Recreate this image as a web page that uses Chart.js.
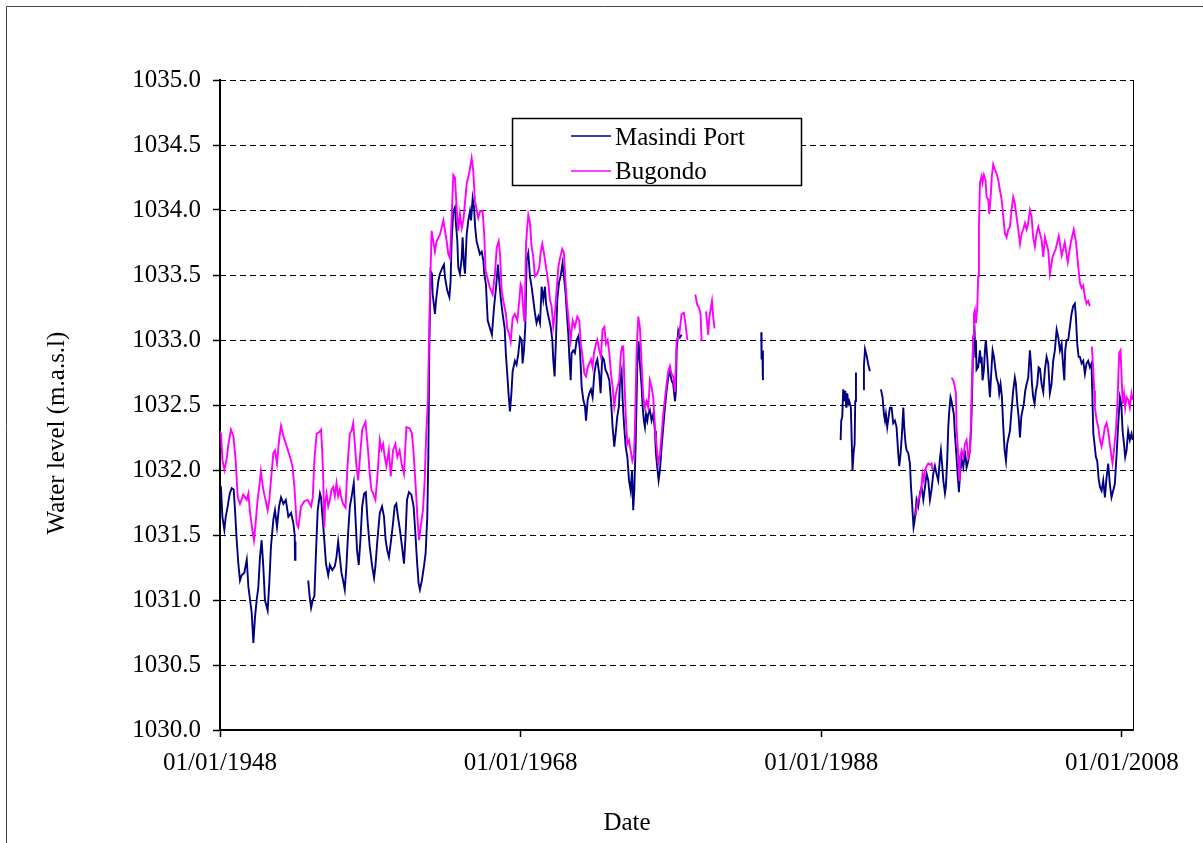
<!DOCTYPE html>
<html><head><meta charset="utf-8">
<script src="https://cdn.jsdelivr.net/npm/chart.js@4/dist/chart.umd.min.js"></script>
<style>html,body{margin:0;padding:0;background:#fff;}canvas{display:block;}</style>
</head><body>
<canvas id="c" width="1203" height="843"></canvas>
<script>
// ---------------- DATA ----------------
const seriesNames = ['Masindi Port', 'Bugondo'];
const xAxisTitle = 'Date';
const yAxisTitle = 'Water level (m.a.s.l)';
const xTickYears = [1948, 1968, 1988, 2008];
const xTickLabels = ['01/01/1948', '01/01/1968', '01/01/1988', '01/01/2008'];
const yMin = 1030.0, yMax = 1035.0, yStep = 0.5;

const masindiYears = [
1948.0,1948.07,1948.16,1948.29,1948.38,1948.51,1948.65,1948.78,1948.91,1949.0,1949.11,1949.22,1949.33,1949.44,1949.62,1949.78,1949.89,
1950.0,1950.11,1950.22,1950.33,1950.44,1950.55,1950.66,1950.77,1950.88,1950.99,1951.17,1951.28,1951.39,1951.55,1951.66,1951.79,1951.93,
1952.06,1952.22,1952.38,1952.55,1952.73,1952.88,1952.97,1952.99,1953.02,1953.4,
1953.87,1953.96,1954.06,1954.17,1954.28,1954.39,1954.5,1954.65,1954.72,1954.8,1954.94,1955.05,1955.2,1955.31,1955.47,1955.64,1955.75,
1955.86,1955.97,1956.08,1956.19,1956.3,1956.41,1956.52,1956.64,1956.75,1956.9,1957.01,1957.12,1957.23,1957.34,1957.46,1957.59,1957.7,
1957.81,1957.96,1958.12,1958.25,1958.34,1958.47,1958.63,1958.78,1958.91,1959.02,1959.13,1959.24,1959.36,1959.51,1959.62,1959.73,1959.84,
1959.97,1960.11,1960.24,1960.33,1960.44,1960.57,1960.73,1960.88,1961.0,1961.1,1961.21,1961.3,1961.43,1961.57,1961.68,1961.79,1961.86,
1961.92,1962.01,1962.1,1962.15,1962.3,1962.37,1962.52,1962.63,1962.81,1962.9,1962.97,1963.12,1963.26,1963.34,1963.41,1963.52,1963.63,
1963.7,1963.79,1963.85,1963.96,1964.08,1964.14,1964.23,1964.3,1964.41,1964.52,1964.63,1964.7,1964.81,1964.9,1964.98,1965.07,1965.18,
1965.29,1965.41,1965.52,1965.58,1965.69,1965.81,1965.96,1966.09,1966.23,1966.36,1966.49,1966.58,1966.67,1966.8,1966.94,1967.02,1967.11,
1967.2,1967.29,1967.38,1967.47,1967.62,1967.73,1967.84,1967.96,1968.07,1968.13,1968.22,1968.31,1968.4,1968.51,1968.62,1968.73,1968.84,
1968.95,1969.06,1969.18,1969.29,1969.4,1969.51,1969.62,1969.69,1969.8,1969.91,1970.0,1970.11,1970.17,1970.26,1970.35,1970.44,1970.55,
1970.66,1970.79,1970.88,1970.99,1971.06,1971.17,1971.24,1971.33,1971.39,1971.5,1971.61,1971.73,1971.84,1971.95,1972.06,1972.17,1972.28,
1972.35,1972.46,1972.57,1972.68,1972.79,1972.9,1973.01,1973.1,1973.23,1973.32,1973.43,1973.54,1973.65,1973.77,1973.9,1974.01,1974.12,
1974.23,1974.32,1974.43,1974.54,1974.61,1974.72,1974.79,1974.88,1974.99,1975.1,1975.21,1975.32,1975.41,1975.49,1975.56,1975.65,1975.76,
1975.85,1975.94,1976.05,1976.12,1976.2,1976.27,1976.34,1976.43,1976.49,1976.6,1976.71,1976.82,1976.94,1977.0,1977.09,1977.18,1977.27,
1977.38,1977.49,1977.6,1977.71,1977.82,1977.93,1978.04,1978.15,1978.27,1978.33,1978.38,1978.49,1978.6,1978.71,1981.0,
1984.01,1984.03,1984.08,1984.12,1986.0,
1989.29,1989.33,1989.4,1989.46,1989.53,1989.6,1989.66,1989.73,1989.8,1989.86,1989.97,1990.02,1990.08,1990.15,1990.22,1990.26,1990.31,1990.5,
1990.79,1990.84,1990.91,1991.02,1991.13,1991.24,1991.6,
1991.97,1992.08,1992.17,1992.24,1992.3,1992.39,1992.48,1992.57,1992.68,1992.79,1992.9,1993.01,1993.12,1993.19,1993.28,1993.37,1993.46,
1993.52,1993.61,1993.68,1993.79,1993.9,1993.97,1994.03,1994.08,1994.14,1994.2,1994.34,1994.45,1994.56,1994.67,1994.79,1994.9,1995.01,
1995.12,1995.23,1995.34,1995.45,1995.56,1995.67,1995.78,1995.89,1995.96,1996.05,1996.12,1996.23,1996.29,1996.38,1996.45,1996.52,1996.6,
1996.67,1996.74,1996.82,1996.89,1997.0,1997.07,1997.16,1997.22,1997.34,1997.45,1997.56,1997.67,1997.78,1997.89,1997.98,1998.05,1998.11,
1998.2,1998.25,1998.29,1998.33,1998.44,1998.56,1998.62,1998.67,1998.73,1998.82,1998.89,1998.95,1999.04,1999.13,1999.22,1999.33,1999.4,
1999.49,1999.57,1999.66,1999.78,1999.84,1999.93,2000.02,2000.11,2000.2,2000.29,2000.37,2000.46,2000.55,2000.66,2000.77,2000.88,2000.95,
2001.04,2001.13,2001.22,2001.31,2001.39,2001.48,2001.57,2001.66,2001.77,2001.88,2001.95,2002.02,2002.1,2002.19,2002.28,2002.37,2002.46,
2002.55,2002.66,2002.77,2002.88,2002.99,2003.1,2003.21,2003.32,2003.43,2003.54,2003.66,2003.77,2003.88,2003.99,2004.1,2004.17,2004.23,
2004.32,2004.43,2004.54,2004.65,2004.76,2004.87,2004.94,2005.03,2005.12,2005.21,2005.32,2005.43,2005.54,2005.65,2005.76,2005.87,2005.98,
2006.05,2006.1,2006.18,2006.27,2006.36,2006.45,2006.54,2006.65,2006.76,2006.87,2006.98,2007.09,2007.2,2007.31,2007.42,2007.53,2007.65,
2007.76,2007.87,2007.96,2008.05,2008.14,2008.22,2008.31,2008.42,2008.53,2008.64,2008.72
];
const masindiLevels = [
1031.83,1031.85,1031.64,1031.54,1031.64,1031.72,1031.82,1031.86,1031.85,1031.69,1031.46,1031.28,1031.15,1031.19,1031.21,1031.31,1031.10,
1031.00,1030.90,1030.67,1030.87,1031.00,1031.10,1031.33,1031.46,1031.26,1031.00,1030.92,1031.13,1031.41,1031.62,1031.69,1031.56,1031.72,
1031.79,1031.74,1031.77,1031.64,1031.67,1031.59,1031.50,1031.31,1031.45,null,
1031.15,1031.03,1030.94,1031.00,1031.03,1031.38,1031.69,1031.82,1031.79,1031.67,1031.46,1031.28,1031.19,1031.27,1031.23,1031.26,1031.33,
1031.45,1031.33,1031.21,1031.15,1031.08,1031.26,1031.51,1031.72,1031.79,1031.90,1031.64,1031.38,1031.27,1031.46,1031.72,1031.82,1031.83,
1031.62,1031.41,1031.26,1031.17,1031.26,1031.46,1031.67,1031.72,1031.64,1031.46,1031.38,1031.33,1031.44,1031.59,1031.72,1031.74,1031.64,
1031.54,1031.41,1031.28,1031.46,1031.77,1031.83,1031.81,1031.72,1031.51,1031.31,1031.13,1031.08,1031.15,1031.26,1031.36,1031.64,1032.10,
1032.89,1033.53,1033.51,1033.35,1033.20,1033.30,1033.45,1033.51,1033.56,1033.58,1033.48,1033.38,1033.33,1033.45,1033.76,1033.99,1034.02,
1033.89,1033.76,1033.56,1033.51,1033.63,1033.79,1033.58,1033.51,1033.81,1033.92,1033.99,1033.92,1034.09,1034.02,1033.86,1033.76,1033.71,
1033.66,1033.68,1033.61,1033.51,1033.43,1033.15,1033.09,1033.04,1033.25,1033.40,1033.58,1033.45,1033.33,1033.20,1033.09,1032.89,1032.74,
1032.58,1032.45,1032.58,1032.76,1032.84,1032.81,1032.89,1033.02,1033.00,1032.82,1032.92,1033.10,1033.62,1033.67,1033.49,1033.41,1033.31,
1033.21,1033.13,1033.18,1033.13,1033.41,1033.31,1033.41,1033.28,1033.21,1033.15,1033.10,1033.00,1032.85,1032.72,1033.00,1033.31,1033.44,
1033.49,1033.59,1033.49,1033.36,1033.23,1033.05,1032.87,1032.69,1032.90,1032.92,1032.90,1033.00,1033.03,1032.92,1032.64,1032.54,1032.49,
1032.38,1032.54,1032.59,1032.62,1032.56,1032.74,1032.82,1032.85,1032.74,1032.59,1032.87,1032.85,1032.77,1032.74,1032.69,1032.54,1032.33,
1032.18,1032.28,1032.41,1032.49,1032.69,1032.76,1032.53,1032.35,1032.18,1032.10,1031.92,1031.84,1032.00,1031.69,1031.84,1032.18,1032.81,
1032.99,1032.81,1032.64,1032.48,1032.38,1032.33,1032.43,1032.38,1032.43,1032.46,1032.38,1032.43,1032.30,1032.13,1032.02,1031.92,1032.00,
1032.18,1032.33,1032.48,1032.61,1032.71,1032.76,1032.69,1032.66,1032.53,1032.61,1032.92,1033.07,1033.02,1033.04,null,
1033.06,1032.85,1032.92,1032.69,null,
1032.23,1032.38,1032.41,1032.62,1032.53,1032.61,1032.48,1032.59,1032.51,1032.53,1032.48,1032.25,1032.00,1032.13,1032.20,1032.53,1032.75,null,
1032.62,1032.80,1032.93,1032.88,1032.81,1032.76,null,
1032.62,1032.56,1032.43,1032.38,1032.43,1032.33,1032.41,1032.48,1032.48,1032.36,1032.38,1032.33,1032.13,1032.03,1032.13,1032.28,1032.48,
1032.33,1032.20,1032.15,1032.13,1032.05,1031.87,1031.77,1031.67,1031.56,1031.60,1031.77,1031.72,1031.82,1031.87,1031.77,1031.87,1031.97,
1031.92,1031.77,1031.85,1031.97,1032.03,1031.97,1031.92,1032.08,1032.15,1032.03,1031.92,1031.82,1031.87,1032.08,1032.33,1032.46,1032.56,
1032.53,1032.48,1032.43,1032.28,1032.10,1031.97,1031.83,1031.95,1032.08,1032.02,1032.15,1032.02,1032.07,1032.15,1032.35,1032.66,1033.02,
1033.07,1032.87,1033.00,1032.77,1032.79,1032.92,1032.82,1032.87,1032.69,1032.77,1032.92,1033.00,1032.87,1032.71,1032.56,1032.79,1032.92,
1032.87,1032.79,1032.71,1032.66,1032.59,1032.66,1032.56,1032.33,1032.15,1032.07,1032.20,1032.25,1032.30,1032.46,1032.61,1032.71,1032.66,
1032.51,1032.41,1032.25,1032.41,1032.46,1032.51,1032.61,1032.66,1032.71,1032.92,1032.82,1032.66,1032.56,1032.51,1032.61,1032.66,1032.79,
1032.78,1032.66,1032.60,1032.77,1032.87,1032.82,1032.59,1032.66,1032.84,1032.92,1033.08,1033.02,1032.92,1032.97,1032.79,1032.69,1032.92,
1033.00,1033.00,1033.10,1033.20,1033.26,1033.28,1033.18,1032.97,1032.87,1032.87,1032.82,1032.84,1032.74,1032.82,1032.84,1032.79,1032.82,
1032.51,1032.28,1032.20,1032.10,1032.07,1031.94,1031.87,1031.84,1031.92,1031.79,1031.94,1032.05,1031.89,1031.79,1031.84,1031.89,1032.12,
1032.36,1032.56,1032.51,1032.30,1032.20,1032.10,1032.15,1032.30,1032.23,1032.28,1032.23
];

const bugondoYears = [
1948.0,1948.07,1948.16,1948.29,1948.45,1948.56,1948.73,1948.89,1949.04,1949.18,1949.33,1949.55,1949.78,1949.89,1950.0,1950.15,1950.26,
1950.37,1950.5,1950.61,1950.72,1950.88,1951.03,1951.17,1951.28,1951.39,1951.55,1951.66,1951.79,1951.93,1952.06,1952.22,1952.44,1952.66,
1952.82,1952.95,1953.1,1953.21,1953.39,1953.61,1953.83,1954.06,1954.17,1954.28,1954.43,1954.59,1954.72,1954.8,1954.87,1954.94,1955.0,
1955.09,1955.2,1955.31,1955.42,1955.53,1955.64,1955.75,1955.86,1955.97,1956.08,1956.19,1956.35,1956.48,1956.64,1956.75,1956.86,1956.97,
1957.08,1957.19,1957.3,1957.46,1957.68,1957.85,1957.96,1958.07,1958.18,1958.34,1958.47,1958.63,1958.74,1958.85,1958.96,1959.07,1959.23,
1959.36,1959.51,1959.67,1959.8,1959.95,1960.11,1960.24,1960.4,1960.62,1960.77,1960.88,1961.02,1961.13,1961.24,1961.35,1961.5,1961.61,
1961.72,1961.83,1961.93,1962.0,1962.08,1962.19,1962.3,1962.41,1962.63,1962.86,1962.97,1963.08,1963.19,1963.3,1963.41,1963.52,1963.63,
1963.74,1963.85,1963.96,1964.08,1964.19,1964.41,1964.59,1964.74,1964.85,1964.96,1965.18,1965.3,1965.47,1965.58,1965.67,1965.85,1965.96,
1966.14,1966.29,1966.41,1966.54,1966.63,1966.74,1966.85,1967.02,1967.11,1967.25,1967.34,1967.47,1967.62,1967.78,1967.91,1968.0,1968.07,
1968.18,1968.24,1968.29,1968.36,1968.44,1968.51,1968.62,1968.73,1968.84,1968.95,1969.11,1969.24,1969.33,1969.44,1969.55,1969.69,1969.84,
1969.95,1970.06,1970.17,1970.28,1970.39,1970.51,1970.62,1970.77,1970.88,1970.99,1971.1,1971.24,1971.33,1971.46,1971.61,1971.77,1971.9,
1972.01,1972.12,1972.24,1972.35,1972.46,1972.57,1972.68,1972.79,1972.88,1973.01,1973.1,1973.23,1973.34,1973.45,1973.57,1973.68,1973.79,
1973.9,1974.01,1974.12,1974.23,1974.34,1974.45,1974.56,1974.67,1974.76,1974.83,1974.9,1975.01,1975.1,1975.21,1975.32,1975.43,1975.54,
1975.6,1975.72,1975.83,1975.94,1976.05,1976.16,1976.27,1976.38,1976.49,1976.6,1976.71,1976.82,1976.94,1977.05,1977.16,1977.27,1977.38,
1977.49,1977.6,1977.71,1977.82,1977.93,1978.04,1978.15,1978.27,1978.38,1978.55,1978.71,1978.86,1978.97,1979.09,1979.3,
1979.62,1979.75,1979.86,1979.97,1980.04,1980.2,
1980.33,1980.42,1980.48,1980.55,1980.66,1980.73,1980.82,1980.9,1987.0,
1994.3,1994.34,1994.45,1994.56,1994.67,1994.74,1994.82,1994.9,1995.01,1995.12,1995.23,1995.34,1995.41,1996.0,
1996.67,1996.78,1996.89,1996.96,1997.0,1997.07,1997.14,1997.18,1997.22,1997.28,1997.34,1997.45,1997.56,1997.67,1997.78,1997.89,1997.96,
1998.02,1998.11,1998.16,1998.22,1998.29,1998.38,1998.44,1998.49,1998.56,1998.67,1998.73,1998.82,1998.93,1999.0,1999.11,1999.18,1999.27,
1999.35,1999.44,1999.55,1999.66,1999.78,1999.89,2000.0,2000.11,2000.22,2000.33,2000.44,2000.55,2000.66,2000.77,2000.88,2000.99,2001.11,
2001.22,2001.33,2001.44,2001.55,2001.66,2001.77,2001.88,2001.99,2002.1,2002.21,2002.33,2002.44,2002.55,2002.66,2002.77,2002.88,2002.99,
2003.1,2003.21,2003.39,2003.6,2003.8,2004.0,2004.2,2004.4,2004.6,2004.8,2004.95,2005.1,2005.21,2005.32,2005.43,2005.54,2005.65,2005.76,
2005.87,2005.95,
2006.0,2006.09,2006.16,2006.21,2006.32,2006.43,2006.54,2006.65,2006.76,2006.87,2006.98,2007.09,2007.2,2007.31,2007.38,2007.47,2007.6,
2007.69,2007.76,2007.82,2007.91,2007.98,2008.05,2008.14,2008.22,2008.31,2008.42,2008.53,2008.64,2008.72
];
const bugondoLevels = [
1032.30,1032.28,1032.08,1032.00,1032.09,1032.20,1032.31,1032.26,1032.08,1031.79,1031.74,1031.81,1031.77,1031.82,1031.67,1031.54,1031.46,
1031.59,1031.77,1031.87,1031.99,1031.85,1031.77,1031.69,1031.77,1031.92,1032.13,1032.15,1032.05,1032.23,1032.34,1032.26,1032.18,1032.10,
1032.03,1031.87,1031.59,1031.56,1031.72,1031.76,1031.77,1031.72,1031.79,1032.08,1032.28,1032.29,1032.31,1032.15,1031.92,1031.56,1031.75,
1031.82,1031.72,1031.77,1031.85,1031.87,1031.80,1031.90,1031.80,1031.85,1031.78,1031.74,1031.71,1032.03,1032.28,1032.30,1032.36,1032.20,
1032.03,1031.92,1032.08,1032.31,1032.37,1032.15,1031.97,1031.85,1031.82,1031.77,1031.95,1032.23,1032.16,1032.20,1032.10,1032.03,1032.15,
1031.95,1032.15,1032.20,1032.10,1032.15,1032.03,1031.97,1032.33,1032.32,1032.28,1032.13,1031.87,1031.64,1031.46,1031.56,1031.69,1031.90,
1032.28,1032.54,1033.15,1033.50,1033.84,1033.76,1033.68,1033.76,1033.81,1033.92,1033.84,1033.76,1033.66,1033.63,1033.94,1034.27,1034.25,
1034.02,1033.84,1033.97,1033.86,1033.92,1034.20,1034.29,1034.40,1034.30,1034.07,1033.94,1033.99,1033.99,1033.81,1033.53,1033.45,1033.40,
1033.35,1033.51,1033.71,1033.76,1033.66,1033.38,1033.30,1033.20,1033.09,1033.04,1032.99,1033.17,1033.20,1033.15,1033.30,1033.43,1033.41,
1033.23,1033.15,1033.31,1033.74,1033.87,1033.96,1033.90,1033.72,1033.64,1033.49,1033.51,1033.56,1033.67,1033.74,1033.67,1033.56,1033.44,
1033.31,1033.26,1033.10,1033.20,1033.38,1033.56,1033.63,1033.70,1033.67,1033.44,1033.26,1033.10,1033.00,1033.15,1033.10,1033.18,1033.15,
1032.97,1032.87,1032.74,1032.72,1032.79,1032.82,1032.85,1032.79,1032.90,1032.97,1033.00,1032.92,1032.87,1033.08,1033.10,1032.97,1033.00,
1032.90,1032.74,1032.64,1032.49,1032.59,1032.64,1032.69,1032.90,1032.95,1032.95,1032.69,1032.38,1032.20,1032.23,1032.15,1032.07,1032.12,
1032.30,1032.94,1033.18,1033.09,1032.81,1032.56,1032.48,1032.53,1032.48,1032.69,1032.64,1032.56,1032.33,1032.18,1032.05,1032.12,1032.28,
1032.43,1032.55,1032.66,1032.76,1032.80,1032.74,1032.72,1032.60,1033.00,1033.04,1033.20,1033.21,1033.12,1033.00,null,
1033.35,1033.27,1033.25,1033.20,1032.99,null,
1033.22,1033.12,1033.04,1033.17,1033.25,1033.30,1033.17,1033.09,null,
1031.65,1031.72,1031.77,1031.80,1031.87,1031.97,1031.92,1032.00,1032.03,1032.05,1032.04,1032.05,1032.00,null,
1032.71,1032.69,1032.64,1032.59,1032.33,1032.20,1032.03,1031.92,1032.10,1032.12,1032.15,1032.10,1032.20,1032.23,1032.10,1032.15,1032.35,
1032.66,1033.02,1033.20,1033.23,1033.13,1033.25,1033.49,1033.87,1034.21,1034.26,1034.21,1034.27,1034.23,1034.10,1034.08,1033.97,1034.10,
1034.26,1034.35,1034.31,1034.28,1034.23,1034.15,1034.08,1033.95,1033.82,1033.79,1033.85,1033.87,1034.00,1034.10,1034.05,1033.95,1033.85,
1033.74,1033.82,1033.85,1033.90,1033.85,1033.90,1034.00,1033.95,1033.79,1033.72,1033.82,1033.87,1033.82,1033.77,1033.64,1033.79,1033.74,
1033.69,1033.51,1033.64,1033.70,1033.80,1033.65,1033.75,1033.60,1033.75,1033.85,1033.75,1033.56,1033.44,1033.40,1033.42,1033.33,1033.28,1033.30,
1033.26,null,
1032.95,1032.79,1032.61,1032.48,1032.38,1032.33,1032.23,1032.18,1032.25,1032.33,1032.36,1032.30,1032.20,1032.10,1032.05,1032.15,1032.30,
1032.48,1032.70,1032.90,1032.92,1032.72,1032.51,1032.59,1032.48,1032.56,1032.54,1032.48,1032.59,1032.54
];

// ---------------- CHART ----------------
const FONT_FAMILY = '"Liberation Serif", "Times New Roman", Times, serif';
const FONT_SIZE = 25;
const toPoints = (xs, ys) => xs.map((x, i) => ({ x: x, y: ys[i] }));

const decor = {
  id: 'decor',
  beforeDatasetsDraw(chart) {
    const { ctx, chartArea: a, scales } = chart;
    const ys = scales.y;
    ctx.save();
    ctx.strokeStyle = '#000';
    ctx.lineWidth = 1;
    ctx.setLineDash([6, 4]);
    ys.ticks.forEach(t => {
      const py = Math.round(ys.getPixelForValue(t.value)) + 0.5;
      ctx.beginPath(); ctx.moveTo(a.left, py); ctx.lineTo(a.right, py); ctx.stroke();
    });
    ctx.restore();
  },
  afterDraw(chart) {
    const { ctx, chartArea: a } = chart;
    ctx.save();
    ctx.strokeStyle = '#000';
    ctx.lineWidth = 1;
    ctx.setLineDash([]);
    const rx = Math.round(a.right) + 0.5;
    ctx.beginPath(); ctx.moveTo(rx, a.top); ctx.lineTo(rx, a.bottom); ctx.stroke();
    ctx.strokeStyle = '#444';
    ctx.beginPath(); ctx.moveTo(6.5, 843); ctx.lineTo(6.5, 6.5); ctx.lineTo(1203, 6.5); ctx.stroke();
    ctx.fillStyle = '#000';
    ctx.font = FONT_SIZE + 'px ' + FONT_FAMILY;
    ctx.textAlign = 'center';
    ctx.textBaseline = 'middle';
    ctx.fillText(xAxisTitle, 627, 823);
    ctx.save();
    ctx.translate(57, 433);
    ctx.rotate(-Math.PI / 2);
    ctx.fillText(yAxisTitle, 0, 0);
    ctx.restore();
    const ds = chart.data.datasets;
    ctx.fillStyle = '#fff';
    ctx.fillRect(512.5, 118.5, 289, 67);
    ctx.strokeStyle = '#000';
    ctx.lineWidth = 1.5;
    ctx.strokeRect(512.5, 118.5, 289, 67);
    const rows = [{ ly: 136, ty: 145 }, { ly: 171, ty: 178.5 }];
    rows.forEach((r, i) => {
      ctx.strokeStyle = ds[i].borderColor;
      ctx.lineWidth = 1.6;
      ctx.beginPath(); ctx.moveTo(571, r.ly); ctx.lineTo(611, r.ly); ctx.stroke();
      ctx.fillStyle = '#000';
      ctx.textAlign = 'left';
      ctx.textBaseline = 'alphabetic';
      ctx.fillText(ds[i].label, 615, r.ty);
    });
    ctx.restore();
  }
};

new Chart(document.getElementById('c'), {
  type: 'line',
  data: {
    datasets: [
      { label: seriesNames[0], data: toPoints(masindiYears, masindiLevels), borderColor: '#000080',
        borderWidth: 1.9, pointRadius: 0, tension: 0, spanGaps: false, order: 1 },
      { label: seriesNames[1], data: toPoints(bugondoYears, bugondoLevels), borderColor: '#FF00FF',
        borderWidth: 1.9, pointRadius: 0, tension: 0, spanGaps: false, order: 0 }
    ]
  },
  options: {
    responsive: false,
    animation: false,
    devicePixelRatio: 1,
    layout: { padding: { top: 80, right: 70, left: 0, bottom: 0 } },
    plugins: { legend: { display: false }, tooltip: { enabled: false } },
    scales: {
      x: {
        type: 'linear', position: 'bottom', min: 1948, max: 2008.74,
        afterBuildTicks: s => { s.ticks = xTickYears.map(v => ({ value: v })); },
        afterFit: s => { s.height = 113; },
        ticks: {
          autoSkip: false, maxRotation: 0, padding: 11, color: '#000',
          font: { family: FONT_FAMILY, size: FONT_SIZE },
          callback: v => xTickLabels[xTickYears.indexOf(v)]
        },
        grid: { drawOnChartArea: false, drawTicks: true, tickLength: 7, tickColor: '#000', tickWidth: 1.5 },
        border: { display: true, color: '#000', width: 2 }
      },
      y: {
        type: 'linear', min: yMin, max: yMax,
        afterFit: s => { s.width = 220; },
        ticks: {
          stepSize: yStep, padding: 12, color: '#000',
          font: { family: FONT_FAMILY, size: FONT_SIZE },
          callback: v => Number(v).toFixed(1)
        },
        grid: { drawOnChartArea: false, drawTicks: true, tickLength: 7, tickColor: '#000', tickWidth: 1.5 },
        border: { display: true, color: '#000', width: 2 }
      }
    }
  },
  plugins: [decor]
});
</script>
</body></html>
